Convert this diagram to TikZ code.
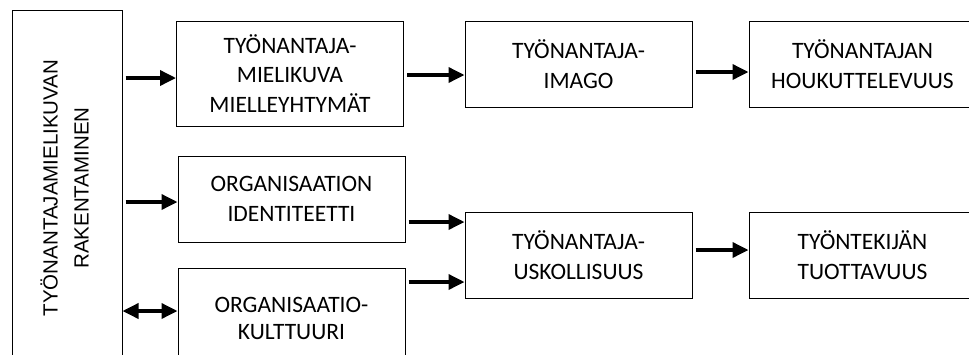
\documentclass[tikz,border=0pt]{standalone}
\usepackage{fontspec}
\setmainfont{Carlito}
\newfontfamily\arialfont{Liberation Sans}
\usetikzlibrary{arrows.meta}

\begin{document}
\begin{tikzpicture}[x=1pt,y=-1pt,
  box node/.style={rectangle,draw,line width=1pt,minimum width=227pt,minimum height=86pt,
    align=center,inner sep=0pt,font=\fontsize{23.5}{29.5}\selectfont},
  arr/.style={line width=3.5pt,-{Triangle[length=16pt,width=15pt]},shorten <=3pt},
  dbl/.style={line width=3.5pt,{Triangle[length=16pt,width=15pt]}-{Triangle[length=16pt,width=15pt]}}]

  \useasboundingbox (0,0) rectangle (969,354);
  \clip (0,0) rectangle (969,354);

  \node[draw,line width=1pt,minimum width=110pt,minimum height=356pt,inner sep=0pt,
    font=\arialfont\fontsize{20.5}{31}\selectfont] (lb) at (67,188)
    {\rotatebox{90}{\begin{tabular}{@{}c@{}}TYÖNANTAJAMIELIKUVAN\\RAKENTAMINEN\end{tabular}}};

  \node[box node,minimum height=105pt] (b1) at (290,73.5) {TYÖNANTAJA-\\MIELIKUVA\\MIELLEYHTYMÄT};
  \node[box node] (b2) at (578.5,64) {TYÖNANTAJA-\\IMAGO};
  \node[box node] (b3) at (862.5,64) {TYÖNANTAJAN\\HOUKUTTELEVUUS};
  \node[box node] (b4) at (291.5,199) {ORGANISAATION\\IDENTITEETTI};
  \node[box node,minimum height=100pt,font=\fontsize{23.5}{27}\selectfont] (b5) at (291.5,318) {ORGANISAATIO-\\KULTTUURI};
  \node[box node] (b6) at (578.5,255) {TYÖNANTAJA-\\USKOLLISUUS};
  \node[box node] (b7) at (862.5,255) {TYÖNTEKIJÄN\\TUOTTAVUUS};

  \draw[arr] (lb.east |- 0,78) -- (b1.west |- 0,78);
  \draw[arr] (b1.east |- 0,75) -- (b2.west |- 0,75);
  \draw[arr] (b2.east |- 0,72) -- (b3.west |- 0,72);
  \draw[arr] (lb.east |- 0,202) -- (b4.west |- 0,202);
  \draw[arr] (b4.east |- 0,222) -- (b6.west |- 0,222);
  \draw[arr] (b5.east |- 0,282) -- (b6.west |- 0,282);
  \draw[arr] (b6.east |- 0,250) -- (b7.west |- 0,250);
  \draw[dbl] (lb.east |- 0,311) -- (b5.west |- 0,311);
\end{tikzpicture}
\end{document}
